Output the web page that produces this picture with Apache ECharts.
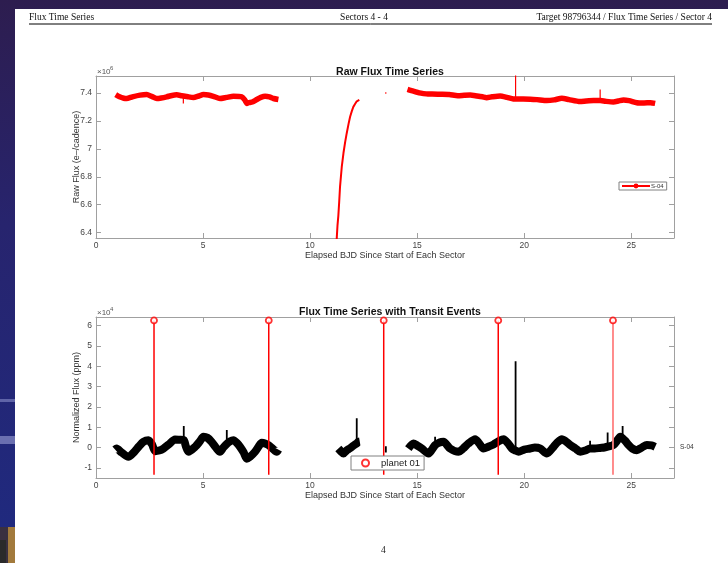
<!DOCTYPE html>
<html><head><meta charset="utf-8">
<script src="https://cdn.jsdelivr.net/npm/echarts@6/dist/echarts.min.js"></script>
<style>html,body{margin:0;padding:0;background:#fff}#c{width:728px;height:563px}</style>
</head><body><div id="c"></div><script>
// ---------------- data ----------------
const xTicks = [0, 5, 10, 15, 20, 25];
const rawTicks = [6.4, 6.6, 6.8, 7, 7.2, 7.4];          // x10^6
const normTicks = [-1, 0, 1, 2, 3, 4, 5, 6];             // x10^4

// Raw flux (e-/cadence, x10^6)
const rawTimeA = [0.92,1.10,1.30,1.43,1.70,2.06,2.37,2.60,2.84,3.05,3.30,3.55,3.77,4.00,4.30,4.55,4.80,5.02,5.25,5.48,5.79,6.10,6.42,6.81,6.95,7.05,7.12,7.30,7.51,7.70,7.90,8.10,8.29,8.52];
const rawFluxA = [7.388,7.372,7.362,7.360,7.372,7.384,7.388,7.375,7.360,7.364,7.372,7.382,7.386,7.380,7.372,7.367,7.378,7.388,7.385,7.376,7.360,7.368,7.376,7.372,7.350,7.325,7.330,7.335,7.353,7.368,7.376,7.372,7.360,7.353];
const rawTimeB = [11.22,11.25,11.28,11.32,11.36,11.40,11.48,11.56,11.64,11.71,11.80,11.87,11.95,12.02,12.10,12.18,12.25,12.30];
const rawFluxB = [6.30,6.37,6.45,6.52,6.62,6.73,6.87,6.97,7.05,7.11,7.18,7.23,7.27,7.30,7.32,7.34,7.35,7.35];
const rawTimeC = [13.52,13.56];
const rawFluxC = [7.40,7.40];
const rawTimeD = [14.55,14.70,14.90,15.10,15.30,15.50,15.70,16.07,16.50,16.90,17.20,17.48,17.80,18.05,18.25,18.50,18.88,19.20,19.50,19.80,20.28,20.60,21.06,21.40,21.76,22.10,22.60,22.90,23.24,23.55,23.80,24.17,24.40,24.64,24.90,25.26,25.60,25.90,26.12];
const rawFluxD = [7.425,7.418,7.410,7.400,7.395,7.392,7.392,7.390,7.388,7.380,7.383,7.385,7.378,7.372,7.366,7.372,7.378,7.368,7.357,7.356,7.355,7.352,7.345,7.350,7.362,7.352,7.338,7.342,7.345,7.345,7.340,7.335,7.342,7.350,7.345,7.330,7.328,7.330,7.325];
const rawSpikeTime = [4.08, 15.60, 19.60, 23.55];
const rawSpikeBase = [7.376, 7.392, 7.357, 7.345];
const rawSpikeTip  = [7.325, 7.405, 7.600, 7.425];

// Normalized flux (ppm, x10^4)
const normTimeA = [0.89,0.96,1.20,1.51,1.80,2.00,2.21,2.45,2.62,2.76,2.95,3.15,3.40,3.69,3.90,4.10,4.20,4.32,4.63,4.85,5.02,5.20,5.40,5.60,5.79,5.95,6.11,6.25,6.42,6.60,6.73,6.90,7.04,7.20,7.43,7.60,7.74,7.90,8.05,8.25,8.44,8.52];
const normFluxA = [-0.10,-0.05,-0.25,-0.46,-0.20,0.05,0.28,0.36,0.15,-0.18,-0.15,-0.05,0.15,0.40,0.38,0.36,0.05,-0.21,0.03,0.30,0.53,0.48,0.28,0.00,-0.21,0.00,0.18,0.30,0.36,0.20,0.03,-0.25,-0.55,-0.45,-0.21,0.05,0.23,0.20,0.12,-0.05,-0.21,-0.10];
const normTimeB = [11.32,11.45,11.56,11.70,11.85,11.95,12.10,12.18,12.25,12.32];
const normFluxB = [-0.05,-0.20,-0.30,-0.15,-0.05,0.03,0.15,0.20,0.28,0.30];
const normTimeC = [14.59,14.83,15.00,15.22,15.53,15.84,16.05,16.23,16.54,16.93,17.15,17.40,17.71,17.90,18.10,18.35,18.57,18.80,19.04,19.25,19.43,19.60,19.74,20.00,20.28,20.50,20.75,21.06,21.37,21.55,21.76,21.95,22.15,22.40,22.62,22.85,23.08,23.30,23.55,23.75,23.95,24.17,24.35,24.49,24.70,24.88,25.05,25.26,25.50,25.73,25.95,26.12];
const normFluxC = [-0.05,0.20,0.10,-0.05,-0.30,0.12,0.25,0.28,-0.05,-0.21,-0.05,0.20,0.41,0.20,-0.05,0.05,0.15,0.30,0.41,0.20,-0.05,-0.15,-0.21,-0.10,-0.05,0.00,-0.05,-0.30,0.03,0.25,0.41,0.30,0.12,-0.05,-0.21,-0.15,-0.05,-0.05,-0.02,0.00,0.05,0.12,0.35,0.53,0.35,0.12,-0.05,-0.13,0.00,0.12,0.10,0.03];
const normSpikeTime = [4.10, 6.11, 12.18, 13.54, 15.84, 19.60, 23.08, 23.90, 24.60];
const normSpikeBase = [0.36, 0.18, 0.20, -0.25, 0.12, -0.15, -0.05, 0.05, 0.40];
const normSpikeTip  = [1.06, 0.86, 1.44, 0.06, 0.53, 4.25, 0.33, 0.74, 1.06];

// Transit events (planet 01)
const transitTimes = [2.71, 8.07, 13.44, 18.79, 24.15];
const transitTop = 6.26;
const transitBottom = -1.34;

// ---------------- helpers ----------------
const BREAK = [NaN, '-'];
function pairs(t, v) { return t.map((x, i) => [x, v[i]]); }
function joinSegs(segs) { const out = []; segs.forEach((s, i) => { if (i) out.push(BREAK); out.push(...s); }); return out; }
function spikes(t, b, tip) { return joinSegs(t.map((x, i) => [[x, b[i]], [x, tip[i]]])); }

const FONT = 'Helvetica, "Liberation Sans", Arial, sans-serif';
const SERIF = '"Liberation Serif", "DejaVu Serif", serif';
const AXC = '#a0a0a0', TXT = '#444';

function xAxis(gi, pos, withLabels) {
  return {
    type: 'value', gridIndex: gi, position: pos, min: 0, max: 27,
    axisLine: { show: true, onZero: false, lineStyle: { color: AXC, width: 1 } },
    axisTick: { show: true, inside: true, length: 5, customValues: xTicks, lineStyle: { color: AXC } },
    axisLabel: { show: withLabels, customValues: xTicks, margin: 3, fontSize: 8.5, color: TXT, fontFamily: FONT },
    splitLine: { show: false },
    name: withLabels ? 'Elapsed BJD Since Start of Each Sector' : '',
    nameLocation: 'middle', nameGap: 13,
    nameTextStyle: { fontSize: 9, color: '#333', fontFamily: FONT }
  };
}
function yAxis(gi, pos, min, max, ticks, name) {
  return {
    type: 'value', gridIndex: gi, position: pos, min: min, max: max,
    axisLine: { show: true, onZero: false, lineStyle: { color: AXC, width: 1 } },
    axisTick: { show: true, inside: true, length: 5, customValues: ticks, lineStyle: { color: AXC } },
    axisLabel: { show: !!name, customValues: ticks, margin: 4, fontSize: 8.5, color: TXT, fontFamily: FONT },
    splitLine: { show: false },
    name: name || '', nameLocation: 'middle', nameGap: 14.5, nameMoveOverlap: false,
    nameTextStyle: { fontSize: 9, color: '#333', fontFamily: FONT }
  };
}

const transitLinesMain = joinSegs(transitTimes.slice(0, 4).map(t => [[t, transitBottom], [t, transitTop]]));
const transitLinesLast = joinSegs(transitTimes.slice(4).map(t => [[t, transitBottom], [t, transitTop]]));

const rawBand = joinSegs([pairs(rawTimeA, rawFluxA), pairs(rawTimeD, rawFluxD)]);
const normBand = joinSegs([pairs(normTimeA, normFluxA), pairs(normTimeB, normFluxB), pairs(normTimeC, normFluxC)]);

const option = {
  animation: false,
  backgroundColor: 'transparent',
  title: [
    { text: 'Raw Flux Time Series', left: 385, top: 62, textAlign: 'center',
      textStyle: { fontSize: 10.5, fontWeight: 'bold', color: '#111', fontFamily: FONT } },
    { text: 'Flux Time Series with Transit Events', left: 385, top: 302, textAlign: 'center',
      textStyle: { fontSize: 10.5, fontWeight: 'bold', color: '#111', fontFamily: FONT } }
  ],
  grid: [
    { left: 96, right: 54, top: 76, bottom: 325, containLabel: false },
    { left: 96, right: 54, top: 317, bottom: 85, containLabel: false }
  ],
  xAxis: [xAxis(0, 'bottom', true), xAxis(0, 'top', false), xAxis(1, 'bottom', true), xAxis(1, 'top', false)],
  yAxis: [
    yAxis(0, 'left', 6.362, 7.521, rawTicks, 'Raw Flux (e\u2013/cadence)'),
    yAxis(0, 'right', 6.362, 7.521, rawTicks, null),
    yAxis(1, 'left', -1.503, 6.43, normTicks, 'Normalized Flux (ppm)'),
    yAxis(1, 'right', -1.503, 6.43, normTicks, null)
  ],
  legend: [
    { data: ['S-04'], left: 619, top: 182, padding: [1, 3, 1, 2], itemWidth: 28, itemHeight: 6, itemGap: 0,
      textStyle: { fontSize: 6, color: '#333', fontFamily: FONT, padding: [0, 0, 0, -4] },
      borderColor: '#808080', borderWidth: 1, backgroundColor: '#fff', selectedMode: false },
    { data: ['planet 01'], left: 351, top: 456, padding: [2, 4, 2, 10], itemWidth: 7, itemHeight: 7,
      textStyle: { fontSize: 9.5, color: '#222', fontFamily: FONT, padding: [0, 0, 0, 7] },
      borderColor: '#808080', borderWidth: 1, backgroundColor: '#fff', selectedMode: false }
  ],
  graphic: [
    // page background
    { type: 'rect', z: -100, shape: { x: 0, y: 0, width: 728, height: 563 },
      style: { fill: { type: 'linear', x: 0, y: 0, x2: 0, y2: 1, colorStops: [
        { offset: 0, color: '#2d1d4f' }, { offset: 0.4, color: '#27246e' }, { offset: 1, color: '#1f2a80' }] } } },
    { type: 'rect', z: -99, shape: { x: 15, y: 9, width: 713, height: 554 }, style: { fill: '#fff' } },
    { type: 'rect', z: -98, shape: { x: 0, y: 399, width: 15, height: 3 }, style: { fill: '#5f64a8' } },
    { type: 'rect', z: -98, shape: { x: 0, y: 436, width: 15, height: 8 }, style: { fill: '#6a6fb0' } },
    { type: 'rect', z: -98, shape: { x: 0, y: 527, width: 15, height: 36 }, style: { fill: '#3a3040' } },
    { type: 'rect', z: -97, shape: { x: 8, y: 527, width: 7, height: 36 }, style: { fill: '#a27a3c' } },
    { type: 'rect', z: -96, shape: { x: 0, y: 540, width: 6, height: 23 }, style: { fill: '#2a2a2a' } },
    // header
    { type: 'text', left: 29, top: 12, style: { text: 'Flux Time Series', font: '9.5px ' + SERIF, fill: '#111' } },
    { type: 'text', left: 'center', top: 12, style: { text: 'Sectors 4 - 4', font: '9.5px ' + SERIF, fill: '#111' } },
    { type: 'text', right: 16, top: 12, style: { text: 'Target 98796344 / Flux Time Series / Sector 4', font: '9.5px ' + SERIF, fill: '#111' } },
    { type: 'line', shape: { x1: 29, y1: 24, x2: 712, y2: 24 }, style: { stroke: '#000', lineWidth: 1 } },
    // page number
    { type: 'text', left: 381, top: 545, style: { text: '4', font: '9.5px ' + SERIF, fill: '#222' } },
    // exponent labels
    { type: 'text', left: 97, top: 68, style: { text: '\u00d710', font: '8px ' + FONT, fill: '#555' } },
    { type: 'text', left: 110, top: 65, style: { text: '6', font: '6px ' + FONT, fill: '#555' } },
    { type: 'text', left: 97, top: 309, style: { text: '\u00d710', font: '8px ' + FONT, fill: '#555' } },
    { type: 'text', left: 110, top: 306, style: { text: '4', font: '6px ' + FONT, fill: '#555' } },
    // side label of lower panel
    { type: 'text', left: 680, top: 444, style: { text: 'S-04', font: '6.5px ' + FONT, fill: '#333' } }
  ],
  series: [
    { name: 'S-04', type: 'line', xAxisIndex: 0, yAxisIndex: 0, symbol: 'none', connectNulls: false, smooth: 0.2,
      lineStyle: { color: '#ff0000', width: 5.5, join: 'round', cap: 'butt' }, itemStyle: { color: '#ff0000' },
      data: rawBand },
    { name: 'rawThin', type: 'line', xAxisIndex: 0, yAxisIndex: 0, symbol: 'none', connectNulls: false,
      lineStyle: { color: '#ff0000', width: 2 },
      data: joinSegs([pairs(rawTimeB, rawFluxB), pairs(rawTimeC, rawFluxC)]) },
    { name: 'rawSpikes', type: 'line', xAxisIndex: 0, yAxisIndex: 0, symbol: 'none', connectNulls: false,
      lineStyle: { color: '#ff0000', width: 1.2 }, data: spikes(rawSpikeTime, rawSpikeBase, rawSpikeTip) },
    { name: 'flux', type: 'line', xAxisIndex: 2, yAxisIndex: 2, symbol: 'none', connectNulls: false, smooth: 0.25,
      lineStyle: { color: '#000', width: 8, join: 'round', cap: 'butt' }, data: normBand },
    { name: 'fluxSpikes', type: 'line', xAxisIndex: 2, yAxisIndex: 2, symbol: 'none', connectNulls: false,
      lineStyle: { color: '#000', width: 1.8 }, data: spikes(normSpikeTime, normSpikeBase, normSpikeTip) },
    { name: 'transits', type: 'line', xAxisIndex: 2, yAxisIndex: 2, symbol: 'none', connectNulls: false,
      lineStyle: { color: '#ff0000', width: 1.5 }, data: transitLinesMain },
    { name: 'transitsLast', type: 'line', xAxisIndex: 2, yAxisIndex: 2, symbol: 'none', connectNulls: false,
      lineStyle: { color: '#ff8080', width: 1.8 }, data: transitLinesLast },
    { name: 'planet 01', type: 'scatter', xAxisIndex: 2, yAxisIndex: 2, symbol: 'circle', symbolSize: 6,
      itemStyle: { color: '#fff', borderColor: '#ff0000', borderWidth: 1.8 }, z: 5,
      data: transitTimes.map(t => [t, transitTop]) }
  ]
};
const chart = echarts.init(document.getElementById('c'), null, { renderer: 'canvas' });
chart.setOption(option);
</script></body></html>
